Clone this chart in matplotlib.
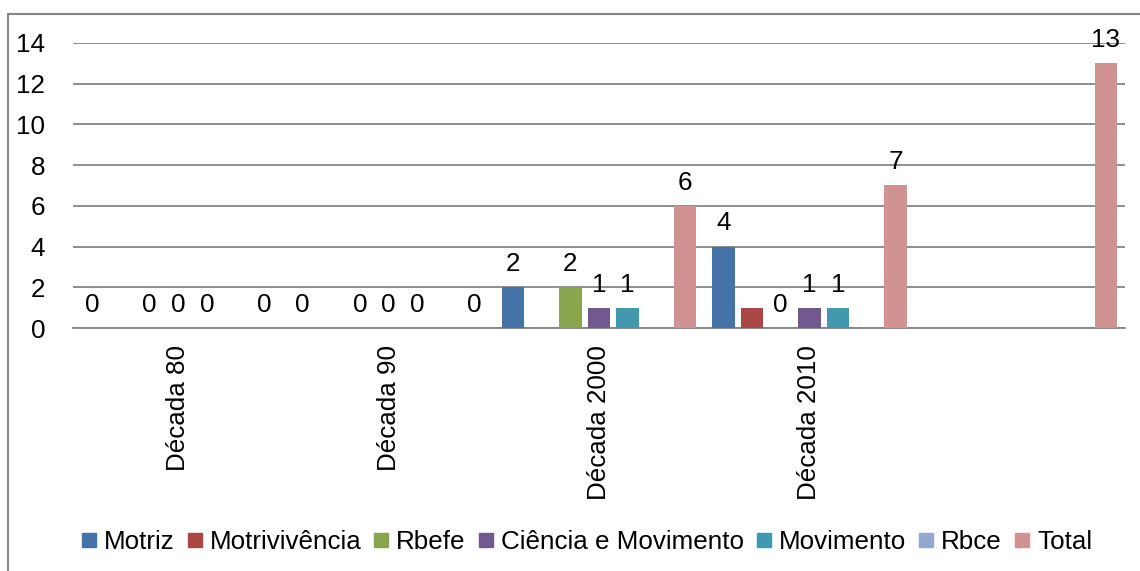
import matplotlib
matplotlib.use("Agg")
import matplotlib.pyplot as plt
from matplotlib.lines import Line2D
from matplotlib.patches import Rectangle
import numpy as np

plt.rcParams['font.family'] = ['Liberation Sans', 'DejaVu Sans']

categories = ["Década 80", "Década 90", "Década 2000", "Década 2010", ""]
series_names = ["Motriz", "Motrivivência", "Rbefe", "Ciência e Movimento",
                "Movimento", "Rbce", "Total"]
nan = np.nan
motriz = [0, 0, 2, 4, nan]
motrivivencia = [nan, nan, nan, 1, nan]
rbefe = [0, 0, 2, 0, nan]
ciencia = [0, 0, 1, 1, nan]
movimento = [0, 0, 1, 1, nan]
rbce = [nan, nan, nan, nan, nan]
total = [0, 0, 6, 7, 13]
values = [motriz, motrivivencia, rbefe, ciencia, movimento, rbce, total]
show_labels = [True, False, True, True, True, False, True]
colors = ['#4572A7', '#AA4643', '#89A54E', '#71588F', '#4198AF', '#93A9CF', '#D19392']

fs = 18.7

fig = plt.figure(figsize=(11.4, 5.71), dpi=100)
ax = fig.add_axes([73 / 1140, 1 - 328 / 571, (1125 - 73) / 1140, (328 - 43) / 571])

x = np.arange(len(categories))
slot = 0.1364
width = 0.108
for i, (name, vals) in enumerate(zip(series_names, values)):
    pos = x + (i - 3) * slot
    v = np.array(vals, dtype=float)
    ax.bar(pos, v, width=width, color=colors[i], zorder=3)
    if show_labels[i]:
        for p, val in zip(pos, v):
            if not np.isnan(val):
                ax.annotate(f"{val:g}", (p, val), xytext=(0, 8),
                            textcoords='offset points', ha='center', va='bottom',
                            fontsize=fs, zorder=4)

ax.set_xlim(-0.5, len(categories) - 0.5)
ax.set_ylim(0, 14)
ax.set_yticks(range(0, 15, 2))
ax.set_xticks(x)
ax.set_xticklabels(categories, rotation=90, fontsize=fs)
ax.tick_params(axis='y', length=0, pad=20, labelsize=fs)
ax.tick_params(axis='x', length=0, pad=12)
ax.grid(axis='y', color='#868686', linewidth=1.3, zorder=0)
for s in ['top', 'right', 'left']:
    ax.spines[s].set_visible(False)
ax.spines['bottom'].set_color('#868686')
ax.spines['bottom'].set_linewidth(1.3)

handles = [Line2D([], [], marker='s', linestyle='none', markersize=9.5,
                  color=c) for c in colors]
fig.legend(handles, series_names, loc='center', bbox_to_anchor=(587 / 1140, 1 - 542 / 571),
           ncol=7, frameon=False, fontsize=fs, handlelength=0.55,
           handletextpad=0.3, columnspacing=0.5, borderpad=0)

fig.patches.append(Rectangle((8 / 1140, -0.2), 1.5, 1.2 - 14 / 571,
                             transform=fig.transFigure, fill=False,
                             edgecolor='#868686', linewidth=1.5))

fig.savefig("out.png", dpi=100)
